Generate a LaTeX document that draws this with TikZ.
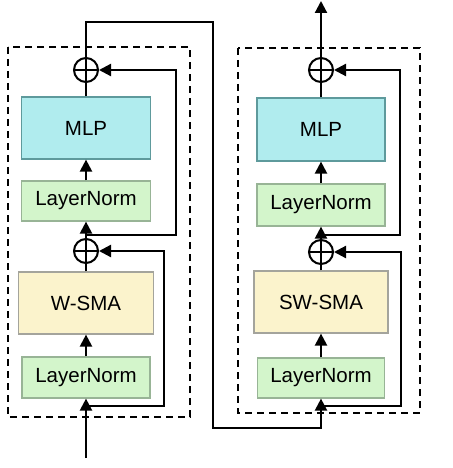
\documentclass[tikz,border=0pt]{standalone}
\usepackage{fontspec}
\setmainfont{Liberation Sans}
\usetikzlibrary{arrows.meta}
\definecolor{mlpfill}{HTML}{B0ECEE}
\definecolor{mlpdraw}{HTML}{5E9A9C}
\definecolor{lnfill}{HTML}{D3F5CB}
\definecolor{lndraw}{HTML}{98B496}
\definecolor{attfill}{HTML}{FBF3CC}
\definecolor{attdraw}{HTML}{A4A49C}
\tikzset{
  blk/.style={draw, line width=1.2pt, inner sep=0pt, font=\fontsize{20.5}{24}\selectfont},
  mlpbox/.style={blk, fill=mlpfill, draw=mlpdraw},
  lnbox/.style={blk, fill=lnfill, draw=lndraw},
  attbox/.style={blk, fill=attfill, draw=attdraw},
  addop/.style={circle, draw, line width=2pt, minimum size=24pt, inner sep=0pt,
    path picture={\draw[line width=2pt] (path picture bounding box.north) -- (path picture bounding box.south)
      (path picture bounding box.west) -- (path picture bounding box.east);}},
  wire/.style={line width=2.2pt},
  arr/.style={wire, -{Triangle[length=12pt,width=12pt]}},
  frame/.style={line width=2pt, dash pattern=on 7pt off 5pt},
}
\begin{document}
\begin{tikzpicture}[x=1pt,y=-1pt]
\useasboundingbox (0,0) rectangle (452,468);
% frames
\draw[frame] (8,47) rectangle (190,417);
\draw[frame] (238,48) rectangle (420,413);
% left block
\node[addop] (p1L) at (86,70) {};
\node[mlpbox, minimum width=129pt, minimum height=62pt] (mlpL) at (86,128) {MLP};
\node[lnbox, minimum width=129pt, minimum height=40pt] (ln1L) at (86,201) {LayerNorm};
\node[addop] (p2L) at (86,251) {};
\node[attbox, minimum width=135pt, minimum height=62pt] (attL) at (86,303) {W-SMA};
\node[lnbox, minimum width=128pt, minimum height=41pt] (ln2L) at (86,377.5) {LayerNorm};
\coordinate (inL) at (86,458);
\coordinate (b1L) at (86,235);
\coordinate (b2L) at (86,406);
% right block
\node[addop] (p1R) at (321,70) {};
\node[mlpbox, minimum width=128pt, minimum height=63pt] (mlpR) at (321,129.5) {MLP};
\node[lnbox, minimum width=128pt, minimum height=42pt] (ln1R) at (321,205) {LayerNorm};
\node[addop] (p2R) at (321,252) {};
\node[attbox, minimum width=134pt, minimum height=62pt] (attR) at (321,302) {SW-SMA};
\node[lnbox, minimum width=127pt, minimum height=40pt] (ln2R) at (321,378) {LayerNorm};
\coordinate (b1R) at (321,235);
\coordinate (b2R) at (321,406);
\coordinate (outR) at (321,1);
% left connections
\draw[arr] (inL) -- (ln2L.south);
\draw[arr] (ln2L.north) -- (attL.south);
\draw[wire] (attL.north) -- (p2L.south);
\draw[arr] (p2L.north) -- (ln1L.south);
\draw[arr] (ln1L.north) -- (mlpL.south);
\draw[wire] (mlpL.north) -- (p1L.south);
\draw[arr] (b2L) -- (164,406) -- (164,251) -- (p2L.east);
\draw[arr] (b1L) -- (176,235) -- (176,70) -- (p1L.east);
% between blocks
\draw[arr] (p1L.north) -- (86,22) -- (213,22) -- (213,428) -- (321,428) -- (ln2R.south);
% right connections
\draw[arr] (ln2R.north) -- (attR.south);
\draw[wire] (attR.north) -- (p2R.south);
\draw[arr] (p2R.north) -- (ln1R.south);
\draw[arr] (ln1R.north) -- (mlpR.south);
\draw[wire] (mlpR.north) -- (p1R.south);
\draw[arr] (b2R) -- (401,406) -- (401,252) -- (p2R.east);
\draw[arr] (b1R) -- (400,235) -- (400,70) -- (p1R.east);
\draw[arr] (p1R.north) -- (outR);
\end{tikzpicture}
\end{document}
